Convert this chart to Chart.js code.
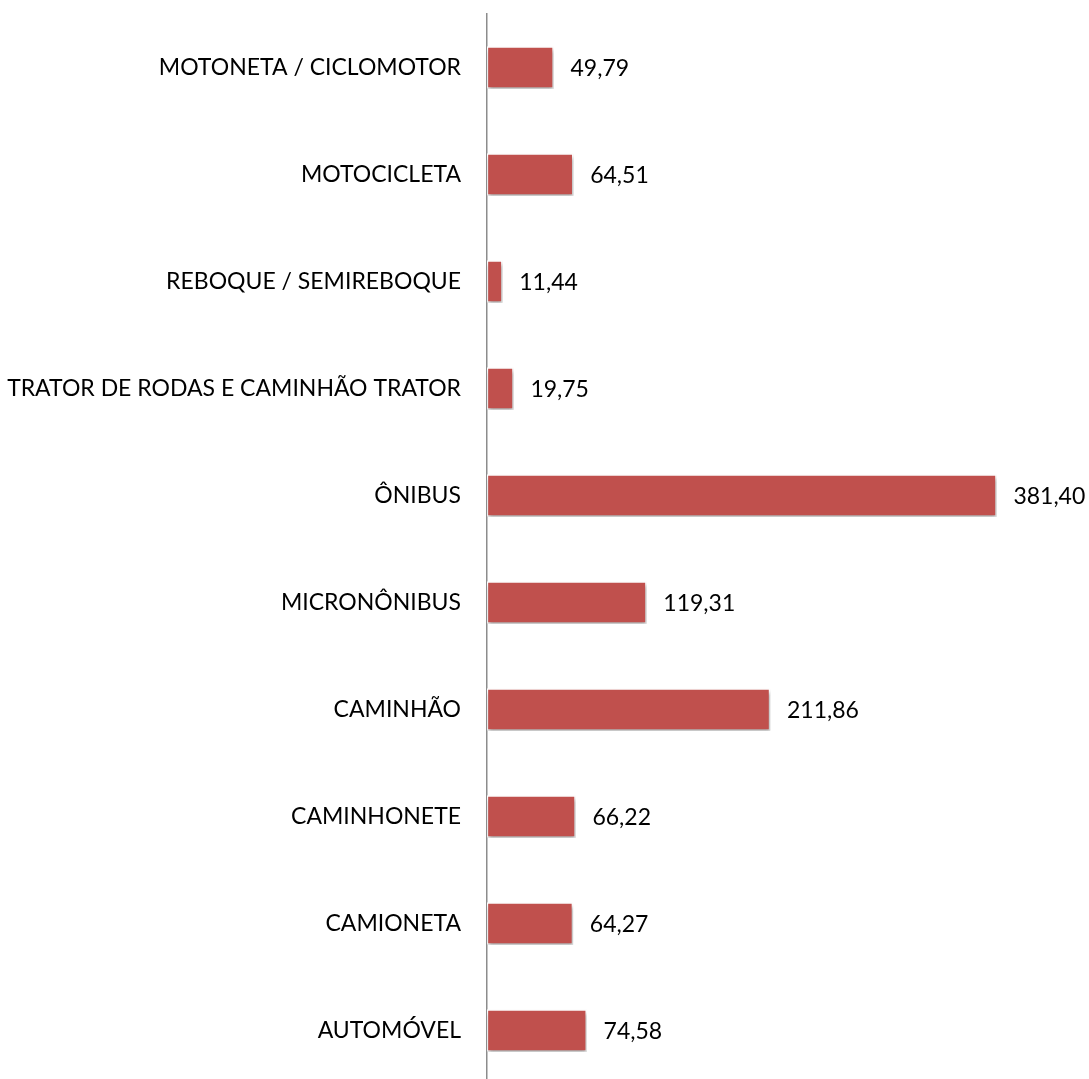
<!DOCTYPE html>
<html>
<head>
<meta charset="utf-8">
<script src="https://cdn.jsdelivr.net/npm/chart.js@4"></script>
<style>
html,body{margin:0;padding:0;background:#fff;overflow:hidden;}
canvas{display:block;}
</style>
</head>
<body>
<canvas id="c" width="1089" height="1084" style="width:1089px;height:1084px;"></canvas>
<script>
const categories = [
  "MOTONETA / CICLOMOTOR",
  "MOTOCICLETA",
  "REBOQUE / SEMIREBOQUE",
  "TRATOR DE RODAS E CAMINHÃO TRATOR",
  "ÔNIBUS",
  "MICRONÔNIBUS",
  "CAMINHÃO",
  "CAMINHONETE",
  "CAMIONETA",
  "AUTOMÓVEL"
];
const values = [49.79, 64.51, 11.44, 19.75, 381.40, 119.31, 211.86, 66.22, 64.27, 74.58];

const FONT = "Lato, 'Open Sans', sans-serif";
const FONT_SIZE = 23;

const shadowPlugin = {
  id: 'barShadow',
  beforeDatasetsDraw(chart) {
    const ctx = chart.ctx;
    ctx.save();
    ctx.shadowColor = 'rgba(0,0,0,0.35)';
    ctx.shadowBlur = 4;
    ctx.shadowOffsetX = 1;
    ctx.shadowOffsetY = 3;
  },
  afterDatasetsDraw(chart) {
    chart.ctx.restore();
  }
};

const valueLabels = {
  id: 'valueLabels',
  afterDraw(chart) {
    const ctx = chart.ctx;
    const meta = chart.getDatasetMeta(0);
    ctx.save();
    ctx.font = FONT_SIZE + 'px ' + FONT;
    ctx.fillStyle = '#000';
    ctx.textAlign = 'left';
    ctx.textBaseline = 'middle';
    meta.data.forEach((bar, i) => {
      const txt = values[i].toFixed(2).replace('.', ',');
      ctx.fillText(txt, bar.x + 17, bar.y + 1);
    });
    ctx.restore();
  }
};

new Chart(document.getElementById('c'), {
  type: 'bar',
  data: {
    labels: categories,
    datasets: [{
      data: values,
      backgroundColor: '#C0504D',
      borderColor: '#FFFFFF',
      borderWidth: 1.5,
      borderSkipped: false,
      barThickness: 42
    }]
  },
  options: {
    indexAxis: 'y',
    responsive: false,
    animation: false,
    devicePixelRatio: 1,
    layout: { padding: { top: 14, bottom: 0, left: 0, right: 1 } },
    plugins: { legend: { display: false }, tooltip: { enabled: false } },
    scales: {
      x: {
        min: 0, max: 450,
        display: false,
        grid: { display: false }
      },
      y: {
        grid: { display: false, drawTicks: false },
        border: { display: true, color: '#8C8C8C', width: 1.5 },
        ticks: {
          color: '#000',
          padding: 26,
          font: { family: FONT, size: FONT_SIZE }
        },
        afterFit(scale) {
          scale.width = 487;
          scale.paddingTop = 0;
          scale.paddingBottom = 0;
        }
      }
    }
  },
  plugins: [shadowPlugin, valueLabels]
});
</script>
</body>
</html>
